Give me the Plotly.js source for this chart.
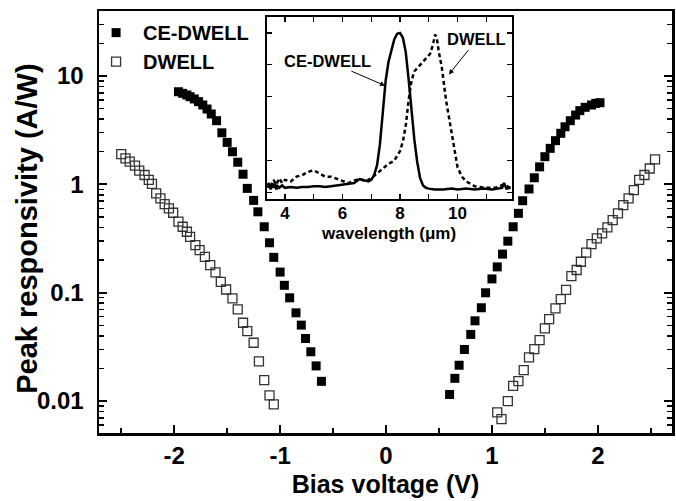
<!DOCTYPE html>
<html>
<head>
<meta charset="utf-8">
<script src="https://cdn.plot.ly/plotly-3.0.1.min.js"></script>
<style>html,body{margin:0;padding:0;background:#fff;}</style>
</head>
<body>
<div id="chart" style="width:676px;height:501px;"></div>
<script>
// ---- Main plot data: peak responsivity (A/W) vs bias voltage (V) ----
const ceBias = [-1.96,-1.92,-1.88,-1.85,-1.81,-1.77,-1.73,-1.69,-1.65,-1.60,-1.55,-1.50,-1.45,-1.40,-1.35,-1.31,-1.25,-1.21,-1.15,-1.10,-1.06,-1.00,-0.96,-0.91,-0.85,-0.80,-0.76,-0.71,-0.66,-0.61,
  0.60,0.65,0.69,0.74,0.80,0.84,0.90,0.94,1.00,1.05,1.10,1.15,1.20,1.25,1.29,1.35,1.40,1.45,1.50,1.55,1.60,1.65,1.69,1.74,1.79,1.83,1.88,1.94,1.98,2.02];
const ceResp = [7.16,6.92,6.68,6.44,6.14,5.80,5.40,4.96,4.46,3.87,2.99,2.44,2.00,1.60,1.24,0.918,0.711,0.558,0.406,0.289,0.212,0.155,0.117,0.0897,0.0652,0.0502,0.0378,0.0285,0.0211,0.0152,
  0.0115,0.0162,0.0214,0.0299,0.0412,0.0550,0.0726,0.0998,0.134,0.173,0.227,0.299,0.406,0.540,0.706,0.906,1.15,1.45,1.80,2.15,2.53,2.96,3.40,3.87,4.36,4.79,5.14,5.40,5.59,5.67];
const dwBias = [-2.50,-2.46,-2.42,-2.37,-2.33,-2.28,-2.24,-2.21,-2.17,-2.13,-2.09,-2.05,-2.01,-1.96,-1.92,-1.88,-1.85,-1.80,-1.76,-1.71,-1.66,-1.61,-1.56,-1.51,-1.45,-1.40,-1.35,-1.31,-1.25,-1.20,-1.15,-1.10,-1.06,
  1.05,1.09,1.15,1.20,1.25,1.30,1.35,1.40,1.45,1.50,1.54,1.60,1.65,1.70,1.75,1.80,1.84,1.89,1.94,1.99,2.04,2.09,2.14,2.19,2.24,2.29,2.34,2.39,2.44,2.49,2.54];
const dwResp = [1.90,1.74,1.62,1.49,1.34,1.22,1.10,1.01,0.826,0.743,0.658,0.600,0.547,0.452,0.406,0.365,0.328,0.275,0.247,0.214,0.180,0.154,0.126,0.107,0.0886,0.0701,0.0528,0.0442,0.0345,0.0232,0.0156,0.0113,0.0093,
  0.00785,0.00681,0.00998,0.0138,0.0153,0.0193,0.0253,0.0302,0.0365,0.0468,0.0570,0.0716,0.0873,0.106,0.142,0.162,0.193,0.234,0.281,0.317,0.353,0.40,0.468,0.540,0.644,0.743,0.886,1.10,1.22,1.40,1.70];

// ---- Inset data: normalized spectral response vs wavelength (um) ----
const ceWave = [3.4,3.45,3.5,3.55,3.6,3.65,3.7,3.75,3.8,3.9,4.0,4.2,4.4,4.6,4.8,5.0,5.2,5.4,5.6,5.8,6.0,6.2,6.4,6.6,6.8,6.9,7.0,7.1,7.2,7.3,7.4,7.5,7.6,7.7,7.8,7.9,8.0,8.1,8.2,8.3,8.4,8.5,8.6,8.7,8.8,8.9,9.0,9.2,9.5,9.8,10.0,10.3,10.6,10.9,11.2,11.4,11.55,11.62,11.7,11.85];
const ceSig  = [0.03,0.06,0.02,0.05,0.03,0.06,0.02,0.04,0.03,0.045,0.03,0.035,0.03,0.035,0.035,0.04,0.04,0.035,0.04,0.045,0.05,0.055,0.06,0.085,0.075,0.07,0.08,0.11,0.17,0.30,0.50,0.70,0.82,0.90,0.96,0.995,1.0,0.97,0.88,0.71,0.52,0.33,0.19,0.09,0.045,0.03,0.025,0.02,0.02,0.025,0.02,0.025,0.02,0.025,0.02,0.025,0.03,0.06,0.025,0.03];
const dwWave = [3.4,3.5,3.6,3.7,3.8,3.9,4.0,4.2,4.4,4.6,4.8,5.0,5.2,5.4,5.6,5.8,6.0,6.2,6.4,6.6,6.8,7.0,7.2,7.4,7.6,7.8,7.9,8.0,8.1,8.2,8.3,8.4,8.5,8.7,8.9,9.05,9.15,9.22,9.28,9.35,9.45,9.6,9.8,10.0,10.15,10.3,10.6,11.0,11.3,11.6,11.85];
const dwSig  = [0.06,0.03,0.08,0.05,0.09,0.06,0.08,0.07,0.10,0.11,0.13,0.14,0.12,0.10,0.10,0.085,0.07,0.06,0.075,0.085,0.07,0.09,0.12,0.15,0.18,0.20,0.23,0.26,0.32,0.42,0.58,0.70,0.76,0.80,0.84,0.87,0.93,0.99,0.97,0.88,0.79,0.58,0.37,0.16,0.10,0.07,0.04,0.03,0.03,0.05,0.03];

const seriesNames = ['CE-DWELL','DWELL'];
const yTickVals = [0.01,0.1,1,10];
const yTickText = ['0.01','0.1','1','10'];
const xTickVals = [-2,-1,0,1,2];
const xTickText = ['-2','-1','0','1','2'];

const FONT = 'Liberation Sans, Arial, Helvetica, sans-serif';

// minor tick positions for log axis (2..9 of each decade)
const yMinor = [];
for (let e = -3; e <= 1; e++) for (let m = 2; m <= 9; m++) yMinor.push(m * Math.pow(10, e));

const traces = [
  {x: ceBias, y: ceResp, name: seriesNames[0], type: 'scatter', mode: 'markers', xaxis: 'x', yaxis: 'y',
   marker: {symbol: 'square', size: 9, color: '#000', line: {width: 0}}},
  {x: dwBias, y: dwResp, name: seriesNames[1], type: 'scatter', mode: 'markers', xaxis: 'x', yaxis: 'y',
   marker: {symbol: 'square-open', size: 9, color: '#333', line: {width: 1.3, color: '#333'}}},
  {x: ceWave, y: ceSig, type: 'scatter', mode: 'lines', xaxis: 'x2', yaxis: 'y2', showlegend: false,
   line: {color: '#000', width: 2.5}},
  {x: dwWave, y: dwSig, type: 'scatter', mode: 'lines', xaxis: 'x2', yaxis: 'y2', showlegend: false,
   line: {color: '#000', width: 2.5, dash: '4px,3px'}}
];

const layout = {
  width: 676, height: 501,
  margin: {l: 99, r: 4, t: 11, b: 68},
  paper_bgcolor: '#fff', plot_bgcolor: '#fff',
  font: {family: FONT, color: '#000'},
  showlegend: true,
  legend: {x: -0.0173, y: 0.995, xanchor: 'left', yanchor: 'top', bgcolor: 'rgba(0,0,0,0)',
           font: {family: FONT, size: 20, weight: 'bold', color: '#000'}, itemwidth: 44, tracegroupgap: 0},
  xaxis: {
    range: [-2.71, 2.70], tickvals: xTickVals, ticktext: xTickText,
    ticks: 'inside', ticklen: 8, tickwidth: 2, tickcolor: '#000',
    showline: true, linewidth: 2.5, linecolor: '#000', mirror: true,
    showgrid: false, zeroline: false,
    minor: {tickvals: [-2.5,-1.5,-0.5,0.5,1.5,2.5], ticks: 'inside', ticklen: 5, tickwidth: 1.5, tickcolor: '#000', showgrid: false},
    tickfont: {family: FONT, size: 24, weight: 'bold', color: '#000'},
    title: {text: 'Bias voltage (V)', font: {family: FONT, size: 25, weight: 'bold', color: '#000'}, standoff: 7}
  },
  yaxis: {
    type: 'log', range: [-2.295, 1.6], tickvals: yTickVals, ticktext: yTickText,
    ticks: 'inside', ticklen: 8, tickwidth: 2, tickcolor: '#000',
    showline: true, linewidth: 2.5, linecolor: '#000', mirror: 'ticks',
    showgrid: false, zeroline: false, ticklabelstandoff: 8,
    minor: {tickvals: yMinor, ticks: 'inside', ticklen: 5, tickwidth: 1.5, tickcolor: '#000', showgrid: false},
    tickfont: {family: FONT, size: 24, weight: 'bold', color: '#000'}
  },
  xaxis2: {
    anchor: 'y2', domain: [0.293, 0.721], range: [3.37, 11.9],
    tickvals: [4,6,8,10], ticks: 'inside', ticklen: 5, tickwidth: 1.2, tickcolor: '#000',
    showline: true, linewidth: 1.5, linecolor: '#000', mirror: 'ticks',
    showgrid: false, zeroline: false, ticklabelstandoff: -2,
    minor: {tickvals: [5,7,9,11], ticks: 'inside', ticklen: 5, tickwidth: 1.2, tickcolor: '#000', showgrid: false},
    tickfont: {family: FONT, size: 17, weight: 'bold', color: '#000'}
  },
  yaxis2: {
    anchor: 'x2', domain: [0.5545, 0.9858], range: [-0.04, 1.1],
    tickvals: [0,0.2,0.4,0.6,0.8,1.0], showticklabels: false,
    ticks: 'inside', ticklen: 5, tickwidth: 1.2, tickcolor: '#000',
    showline: true, linewidth: 1.5, linecolor: '#000', mirror: 'ticks',
    showgrid: false, zeroline: false
  },
  annotations: [
    {xref: 'paper', yref: 'paper', x: -0.1257, y: 0.484, xanchor: 'center', yanchor: 'middle', showarrow: false,
     textangle: -90, text: 'Peak responsivity (A/W)', font: {family: FONT, size: 29, weight: 'bold', color: '#000'}},
    {xref: 'x2', yref: 'paper', x: 7.6, y: 0.4716, yanchor: 'middle', xanchor: 'center', showarrow: false,
     text: 'wavelength (μm)', font: {family: FONT, size: 17, weight: 'bold', color: '#000'}},
    {xref: 'x2', yref: 'y2', x: 7.48, y: 0.67, ax: -58, ay: -25, text: 'CE-DWELL', showarrow: true,
     arrowhead: 2, arrowsize: 1, arrowwidth: 1, arrowcolor: '#000',
     font: {family: FONT, size: 16.5, weight: 'bold', color: '#000'}},
    {xref: 'x2', yref: 'y2', x: 9.70, y: 0.74, ax: 28, ay: -35, text: 'DWELL', showarrow: true,
     arrowhead: 2, arrowsize: 1, arrowwidth: 1, arrowcolor: '#000',
     font: {family: FONT, size: 16.5, weight: 'bold', color: '#000'}}
  ]
};

Plotly.newPlot('chart', traces, layout, {staticPlot: true, displayModeBar: false});
</script>
</body>
</html>
